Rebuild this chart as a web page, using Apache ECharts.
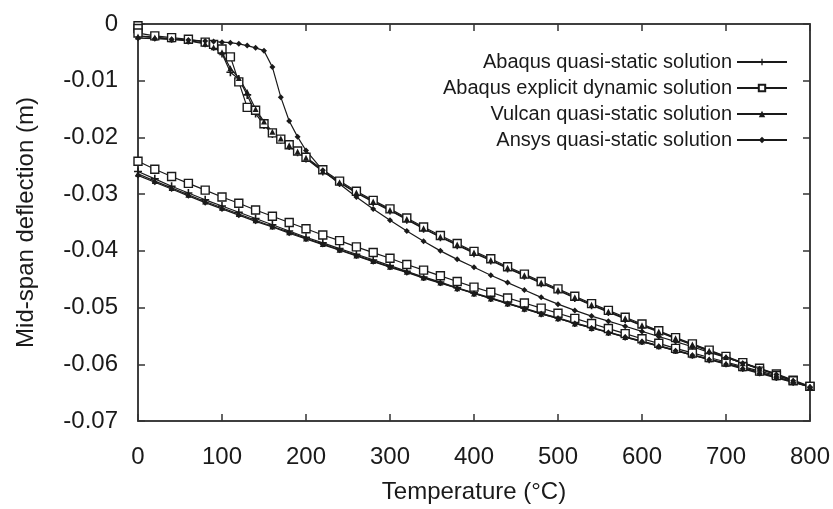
<!DOCTYPE html>
<html>
<head>
<meta charset="utf-8">
<script src="https://cdn.jsdelivr.net/npm/echarts@6/dist/echarts.min.js"></script>
<style>
  html, body { margin: 0; padding: 0; background: #fff; }
  #chart { width: 833px; height: 509px; }
</style>
</head>
<body>
<div id="chart"></div>
<script>
// 升温段温度 (°C)
var tempsHeat = [0, 20, 40, 60, 80,
	90, 100, 110, 120, 130, 140, 150, 160, 170, 180, 190, 200,
	220, 240, 260, 280, 300, 320, 340, 360, 380, 400,
	420, 440, 460, 480, 500, 520, 540, 560, 580, 600,
	620, 640, 660, 680, 700, 720, 740, 760, 780, 800];
// 显式动力分析开头在 0°C 有几个点
var explStartTemps = [0, 0];
var explStartVals = [-0.0003, -0.0008];
// 降温段温度 (°C)，从小到大写，画的时候倒过来
var tempsCool = [0, 20, 40, 60, 80, 100, 120, 140, 160, 180, 200,
	220, 240, 260, 280, 300, 320, 340, 360, 380, 400,
	420, 440, 460, 480, 500, 520, 540, 560, 580, 600,
	620, 640, 660, 680, 700, 720, 740, 760, 780, 800];

// Abaqus quasi-static
var abqQsHeat = [-0.0021, -0.0023, -0.0026, -0.0029, -0.0034,
	-0.0040, -0.0052, -0.0085, -0.0097, -0.0125, -0.0158, -0.0178, -0.0194, -0.0204, -0.0215, -0.0226, -0.0237,
	-0.0260, -0.0280, -0.0298, -0.0314, -0.0329, -0.0345, -0.0361, -0.0376, -0.0390, -0.0404,
	-0.0417, -0.0431, -0.0444, -0.0457, -0.0470, -0.0483, -0.0496, -0.0508, -0.0520, -0.0532,
	-0.0543, -0.0555, -0.0566, -0.0577, -0.0588, -0.0598, -0.0608, -0.0618, -0.0629, -0.0640];
var abqQsCool = [-0.0260, -0.0273, -0.0286, -0.0298, -0.0310, -0.0321, -0.0332, -0.0343, -0.0354, -0.0365, -0.0376,
	-0.0386, -0.0396, -0.0406, -0.0416, -0.0426, -0.0436, -0.0446, -0.0455, -0.0465, -0.0474,
	-0.0483, -0.0492, -0.0501, -0.0510, -0.0518, -0.0527, -0.0535, -0.0543, -0.0551, -0.0559,
	-0.0567, -0.0575, -0.0583, -0.0591, -0.0598, -0.0606, -0.0614, -0.0622, -0.0631, -0.0640];

// Abaqus explicit dynamic
var explHeat = [-0.0016, -0.0021, -0.0024, -0.0027, -0.0032,
	-0.0036, -0.0044, -0.0058, -0.0102, -0.0147, -0.0152, -0.0176, -0.0192, -0.0203, -0.0213, -0.0224, -0.0235,
	-0.0257, -0.0277, -0.0295, -0.0311, -0.0326, -0.0342, -0.0358, -0.0373, -0.0387, -0.0401,
	-0.0414, -0.0428, -0.0441, -0.0454, -0.0467, -0.0480, -0.0493, -0.0505, -0.0517, -0.0529,
	-0.0541, -0.0553, -0.0564, -0.0575, -0.0586, -0.0597, -0.0607, -0.0617, -0.0628, -0.0639];
var explCool = [-0.0242, -0.0256, -0.0269, -0.0281, -0.0293, -0.0305, -0.0316, -0.0328, -0.0339, -0.0350, -0.0361,
	-0.0372, -0.0382, -0.0393, -0.0403, -0.0413, -0.0424, -0.0434, -0.0444, -0.0454, -0.0464,
	-0.0473, -0.0483, -0.0492, -0.0501, -0.0510, -0.0519, -0.0528, -0.0537, -0.0546, -0.0555,
	-0.0563, -0.0572, -0.0580, -0.0588, -0.0596, -0.0604, -0.0612, -0.0620, -0.0629, -0.0639];

// Vulcan quasi-static
var vulcanHeat = [-0.0022, -0.0024, -0.0027, -0.0030, -0.0035,
	-0.0041, -0.0050, -0.0078, -0.0095, -0.0120, -0.0150, -0.0172, -0.0190, -0.0202, -0.0214, -0.0225, -0.0236,
	-0.0259, -0.0279, -0.0297, -0.0313, -0.0328, -0.0344, -0.0360, -0.0375, -0.0389, -0.0403,
	-0.0416, -0.0430, -0.0443, -0.0456, -0.0469, -0.0482, -0.0495, -0.0507, -0.0519, -0.0531,
	-0.0542, -0.0554, -0.0565, -0.0576, -0.0587, -0.0598, -0.0608, -0.0618, -0.0629, -0.0640];
var vulcanCool = [-0.0264, -0.0277, -0.0289, -0.0301, -0.0313, -0.0324, -0.0335, -0.0346, -0.0357, -0.0367, -0.0378,
	-0.0388, -0.0398, -0.0408, -0.0418, -0.0428, -0.0437, -0.0447, -0.0456, -0.0466, -0.0475,
	-0.0484, -0.0493, -0.0502, -0.0511, -0.0519, -0.0528, -0.0536, -0.0544, -0.0552, -0.0560,
	-0.0568, -0.0576, -0.0584, -0.0591, -0.0599, -0.0607, -0.0615, -0.0623, -0.0631, -0.0640];

// Ansys quasi-static
var ansysHeat = [-0.0025, -0.0026, -0.0027, -0.0028, -0.0030,
	-0.0031, -0.0032, -0.0033, -0.0035, -0.0038, -0.0042, -0.0047, -0.0076, -0.0129, -0.0171, -0.0199, -0.0223,
	-0.0258, -0.0282, -0.0305, -0.0326, -0.0346, -0.0365, -0.0383, -0.0400, -0.0415, -0.0429,
	-0.0443, -0.0456, -0.0469, -0.0482, -0.0494, -0.0505, -0.0515, -0.0524, -0.0533, -0.0542,
	-0.0551, -0.0560, -0.0569, -0.0579, -0.0588, -0.0598, -0.0608, -0.0618, -0.0629, -0.0640];
var ansysCool = [-0.0267, -0.0279, -0.0291, -0.0303, -0.0315, -0.0326, -0.0337, -0.0348, -0.0358, -0.0369, -0.0379,
	-0.0389, -0.0399, -0.0409, -0.0419, -0.0429, -0.0438, -0.0448, -0.0457, -0.0466, -0.0475,
	-0.0484, -0.0493, -0.0502, -0.0511, -0.0519, -0.0528, -0.0536, -0.0544, -0.0552, -0.0560,
	-0.0568, -0.0576, -0.0584, -0.0592, -0.0600, -0.0608, -0.0616, -0.0624, -0.0632, -0.0641];

var seriesNames = ['Abaqus quasi-static solution', 'Abaqus explicit dynamic solution',
	'Vulcan quasi-static solution', 'Ansys quasi-static solution'];

// 升温 + 降温 连成一条回线
function loop(heat, cool) {
	var up = tempsHeat.map(function(t, i) { return [t, heat[i]]; });
	var down = tempsCool.map(function(t, i) { return [t, cool[i]]; }).reverse();
	return up.concat(down);
}

var explData = explStartTemps.map(function(t, i) { return [t, explStartVals[i]]; })
	.concat(loop(explHeat, explCool));

var FONT = 'Liberation Sans, Arial, sans-serif';
var INK = '#1a1a1a';
var plusIcon = 'path://M4,0H6V4H10V6H6V10H4V6H0V4H4Z';

function lineSeries(name, data, symbol, size, fill, axisIdx) {
	return {
		name: name,
		type: 'line',
		xAxisIndex: axisIdx,
		yAxisIndex: axisIdx,
		data: data,
		symbol: symbol,
		symbolSize: size,
		showAllSymbol: true,
		lineStyle: { color: INK, width: 1.2 },
		itemStyle: { color: fill, borderColor: INK, borderWidth: fill === '#fff' ? 1.4 : 0 },
		emphasis: { disabled: true }
	};
}

var axisLineStyle = { color: '#333', width: 1.5 };

var myChart = echarts.init(document.getElementById('chart'), null, { renderer: 'canvas' });
var option = {
	animation: false,
	backgroundColor: '#fff',
	textStyle: { fontFamily: FONT },
	grid: { left: 138, right: 23, top: 24, bottom: 88, show: true, borderColor: '#333', borderWidth: 1.5, backgroundColor: 'transparent' },
	legend: {
		data: seriesNames,
		orient: 'vertical',
		right: 40,
		top: 47,
		align: 'right',
		itemWidth: 50,
		itemHeight: 8,
		itemGap: 6,
		textStyle: { fontFamily: FONT, fontSize: 20, color: INK }
	},
	xAxis: [
		{
			type: 'value', min: 0, max: 800, interval: 100, position: 'bottom',
			name: 'Temperature (\u00B0C)', nameLocation: 'middle', nameGap: 59,
			nameTextStyle: { fontFamily: FONT, fontSize: 24, color: INK },
			axisLine: { show: true, onZero: false, lineStyle: axisLineStyle },
			axisTick: { show: true, inside: true, length: 7, lineStyle: axisLineStyle },
			axisLabel: { fontFamily: FONT, fontSize: 24, color: INK, margin: 24 },
			splitLine: { show: false }
		},
		{
			type: 'value', min: 0, max: 800, interval: 100, position: 'top',
			axisLine: { show: true, onZero: false, lineStyle: axisLineStyle },
			axisTick: { show: true, inside: true, length: 7, lineStyle: axisLineStyle },
			axisLabel: { show: false },
			splitLine: { show: false }
		}
	],
	yAxis: [
		{
			type: 'value', min: -0.07, max: 0, interval: 0.01, position: 'left',
			name: 'Mid-span deflection (m)', nameLocation: 'middle', nameGap: 100,
			nameTextStyle: { fontFamily: FONT, fontSize: 24, color: INK },
			axisLine: { show: true, onZero: false, lineStyle: axisLineStyle },
			axisTick: { show: true, inside: true, length: 7, lineStyle: axisLineStyle },
			axisLabel: {
				fontFamily: FONT, fontSize: 24, color: INK, margin: 20,
				formatter: function(v) { return v === 0 ? '0' : v.toFixed(2); }
			},
			splitLine: { show: false }
		},
		{
			type: 'value', min: -0.07, max: 0, interval: 0.01, position: 'right', offset: 0,
			axisLine: { show: true, onZero: false, lineStyle: axisLineStyle },
			axisTick: { show: true, inside: true, length: 7, lineStyle: axisLineStyle },
			axisLabel: { show: false },
			splitLine: { show: false }
		}
	],
	series: [
		lineSeries(seriesNames[0], loop(abqQsHeat, abqQsCool), plusIcon, 8, INK, 0),
		lineSeries(seriesNames[1], explData, 'rect', 8, '#fff', 0),
		lineSeries(seriesNames[2], loop(vulcanHeat, vulcanCool), 'triangle', 6, INK, 0),
		lineSeries(seriesNames[3], loop(ansysHeat, ansysCool), 'diamond', 6, INK, 1)
	]
};
option && myChart.setOption(option);
</script>
</body>
</html>
